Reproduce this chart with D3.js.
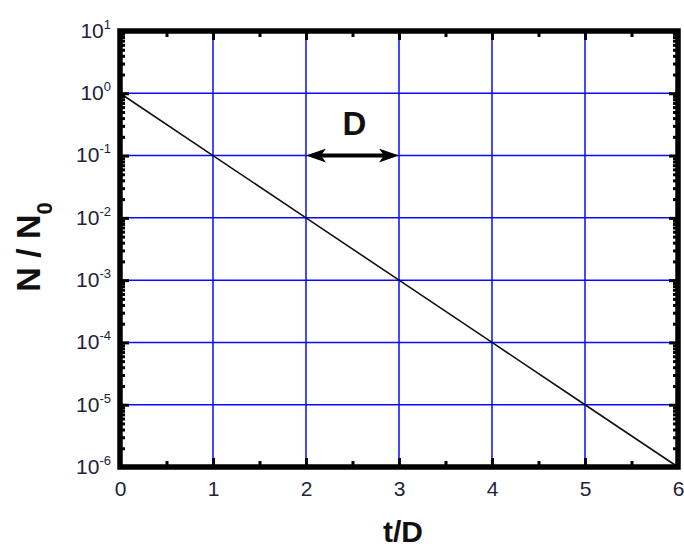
<!DOCTYPE html>
<html>
<head>
<meta charset="utf-8">
<script src="https://cdn.jsdelivr.net/npm/d3@7"></script>
<style>
  html, body { margin: 0; padding: 0; background: #fff; }
  svg { display: block; font-family: "Liberation Sans", Arial, sans-serif; }
</style>
</head>
<body>
<svg id="chart" width="684" height="547"></svg>
<script>
// Decay curve: N/N0 = 10^(-t/D)
const tValues = [0, 1, 2, 3, 4, 5, 6];
const ratioValues = [1, 1e-1, 1e-2, 1e-3, 1e-4, 1e-5, 1e-6];

// Axis ticks
const xTickValues = [0, 1, 2, 3, 4, 5, 6];
const xMinorTicks = [0.5, 1.5, 2.5, 3.5, 4.5, 5.5];
const yExponents = [1, 0, -1, -2, -3, -4, -5, -6];
const xGridValues = [1, 2, 3, 4, 5];
const yGridExponents = [0, -1, -2, -3, -4, -5];

// Annotation: one decimal reduction time D
const arrowSpan = [2, 3];
const arrowLevel = 0.1;
const arrowLabel = "D";

const svg = d3.select("#chart");
const plot = { left: 120, right: 678, top: 31, bottom: 467 };

const x = d3.scaleLinear().domain([0, 6]).range([plot.left, plot.right]);
const y = d3.scaleLog().domain([1e-6, 10]).range([plot.bottom, plot.top]);

const yMajor = yExponents.map(e => Math.pow(10, e));
const yMinor = [];
for (let e = -6; e < 1; e++) {
  for (let m = 2; m <= 9; m++) yMinor.push(m * Math.pow(10, e));
}

// Grid
const grid = svg.append("g").attr("stroke", "#0a0aff").attr("stroke-width", 1.5);
grid.selectAll("line.gx").data(xGridValues).join("line")
  .attr("x1", d => x(d)).attr("x2", d => x(d))
  .attr("y1", plot.top).attr("y2", plot.bottom);
grid.selectAll("line.gy").data(yGridExponents).join("line")
  .attr("y1", d => y(Math.pow(10, d))).attr("y2", d => y(Math.pow(10, d)))
  .attr("x1", plot.left).attr("x2", plot.right);

// Data line
svg.append("path")
  .datum(tValues.map((t, i) => [t, ratioValues[i]]))
  .attr("fill", "none")
  .attr("stroke", "#111")
  .attr("stroke-width", 1.6)
  .attr("d", d3.line().x(d => x(d[0])).y(d => y(d[1])));

// Axes with inward ticks
function tickStyle(g) {
  g.select(".domain").remove();
  g.selectAll(".tick line").attr("stroke", "#000").attr("stroke-width", 3);
}
const labelColor = "#22223a";

// bottom major (with labels)
const xAxisB = svg.append("g").attr("transform", `translate(0,${plot.bottom})`)
  .call(d3.axisBottom(x).tickValues(xTickValues).tickSizeInner(-9).tickSizeOuter(0)
    .tickPadding(14).tickFormat(d3.format("d")));
tickStyle(xAxisB);
xAxisB.selectAll("text").attr("font-size", 21).attr("fill", labelColor)
  .attr("font-family", "Liberation Sans, Arial, sans-serif");

svg.append("g").attr("transform", `translate(0,${plot.bottom})`)
  .call(d3.axisBottom(x).tickValues(xMinorTicks).tickSizeInner(-6).tickSizeOuter(0).tickFormat(""))
  .call(tickStyle);

// top
svg.append("g").attr("transform", `translate(0,${plot.top})`)
  .call(d3.axisTop(x).tickValues(xTickValues).tickSizeInner(-9).tickSizeOuter(0).tickFormat(""))
  .call(tickStyle);
svg.append("g").attr("transform", `translate(0,${plot.top})`)
  .call(d3.axisTop(x).tickValues(xMinorTicks).tickSizeInner(-6).tickSizeOuter(0).tickFormat(""))
  .call(tickStyle);

// left major (with labels)
const yAxisL = svg.append("g").attr("transform", `translate(${plot.left},0)`)
  .call(d3.axisLeft(y).tickValues(yMajor).tickSizeInner(-9).tickSizeOuter(0).tickPadding(9).tickFormat(""));
tickStyle(yAxisL);
yAxisL.selectAll(".tick text").each(function(d) {
  const e = Math.round(Math.log10(d));
  const t = d3.select(this).attr("font-size", 21).attr("fill", labelColor)
    .attr("font-family", "Liberation Sans, Arial, sans-serif")
    .attr("dy", "0.3em").text(null);
  t.append("tspan").text("10");
  t.append("tspan").attr("font-size", 13).attr("dy", -9).text(String(e));
});
svg.append("g").attr("transform", `translate(${plot.left},0)`)
  .call(d3.axisLeft(y).tickValues(yMinor).tickSizeInner(-5).tickSizeOuter(0).tickFormat(""))
  .call(tickStyle);

// right
svg.append("g").attr("transform", `translate(${plot.right},0)`)
  .call(d3.axisRight(y).tickValues(yMajor).tickSizeInner(-9).tickSizeOuter(0).tickFormat(""))
  .call(tickStyle);
svg.append("g").attr("transform", `translate(${plot.right},0)`)
  .call(d3.axisRight(y).tickValues(yMinor).tickSizeInner(-5).tickSizeOuter(0).tickFormat(""))
  .call(tickStyle);

// Frame
svg.append("rect")
  .attr("x", plot.left).attr("y", plot.top)
  .attr("width", plot.right - plot.left).attr("height", plot.bottom - plot.top)
  .attr("fill", "none").attr("stroke", "#000").attr("stroke-width", 5.5);

// Double-headed arrow spanning D
const defs = svg.append("defs");
defs.append("marker")
  .attr("id", "head")
  .attr("viewBox", "0 0 20 14")
  .attr("markerUnits", "userSpaceOnUse")
  .attr("markerWidth", 20).attr("markerHeight", 14)
  .attr("refX", 12).attr("refY", 7)
  .attr("orient", "auto-start-reverse")
  .append("path").attr("d", "M0,0 L20,7 L0,14 L5,7 Z").attr("fill", "#000");

svg.append("line")
  .attr("x1", x(arrowSpan[0]) + 8).attr("x2", x(arrowSpan[1]) - 8)
  .attr("y1", y(arrowLevel)).attr("y2", y(arrowLevel))
  .attr("stroke", "#000").attr("stroke-width", 4)
  .attr("marker-start", "url(#head)").attr("marker-end", "url(#head)");

svg.append("text")
  .attr("x", (x(arrowSpan[0]) + x(arrowSpan[1])) / 2 + 2)
  .attr("y", y(arrowLevel) - 21)
  .attr("text-anchor", "middle")
  .attr("font-weight", "bold").attr("font-size", 33)
  .attr("fill", "#111")
  .text(arrowLabel);

// Axis titles
svg.append("text")
  .attr("x", (plot.left + plot.right) / 2 + 4).attr("y", 542)
  .attr("text-anchor", "middle")
  .attr("font-weight", "bold").attr("font-size", 30)
  .attr("fill", "#111")
  .text("t/D");

const yTitle = svg.append("text")
  .attr("transform", "translate(40,247) rotate(-90)")
  .attr("text-anchor", "middle")
  .attr("font-weight", "bold").attr("font-size", 34)
  .attr("fill", "#111");
yTitle.append("tspan").text("N / N");
yTitle.append("tspan").attr("font-size", 22).attr("dy", 12).text("0");
</script>
</body>
</html>
